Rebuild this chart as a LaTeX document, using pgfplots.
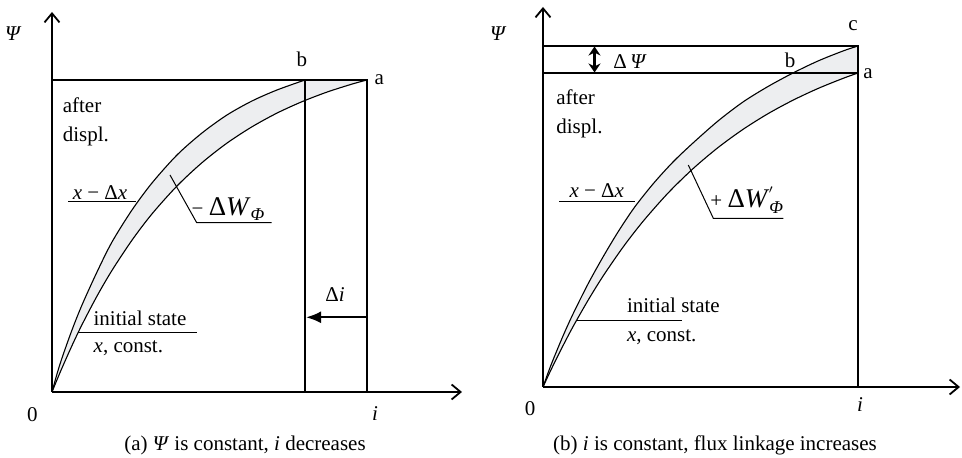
\documentclass[border=0pt]{standalone}
\usepackage{fontspec}
\setmainfont{Liberation Serif}
\usepackage{pgfplots}
\pgfplotsset{compat=1.18}
\usetikzlibrary{arrows.meta}
\definecolor{band}{RGB}{237,238,240}

\pgfplotsset{
  fluxaxis/.style={
    x=0.5pt, y=0.5pt, anchor=origin,
    xmin=0, ymin=0, axis lines=left,
    xtick=\empty, ytick=\empty,
    axis line style={line width=1.1pt,
      -{Straight Barb[length=4.5pt,width=7.5pt,line width=0.9pt]}},
    clip=false,
  },
  curve/.style={no marks, smooth, black, line width=0.55pt},
  frame/.style={no marks, black, line width=1.1pt},
}
\newcommand{\Wphi}{\textit{W}\raisebox{-0.45ex}{\fontsize{9}{9}\selectfont\textit{Φ}}}
\newcommand{\Wphip}{\textit{W}\rlap{\raisebox{0.55ex}{\fontsize{9}{9}\selectfont\kern-0.05em$'$}}\raisebox{-0.45ex}{\fontsize{9}{9}\selectfont\textit{Φ}}}

\begin{document}
\fontsize{10.5}{12.6}\selectfont
\begin{tikzpicture}[x=1pt, y=1pt, every node/.style={inner sep=0pt, font=\fontsize{10.5}{12.6}\selectfont}]
\path[use as bounding box] (0,0) rectangle (481,229);

% (a) Psi constant, i decreases
\begin{axis}[fluxaxis, at={(26pt,33pt)}, xmax=410, ymax=380]
\addplot[fill=band, draw=none] coordinates {
(0,0)(5,18)(10,34)(20,62)(30,87)(45,120)(60,150)(80,182)(100,209)(125,237)
(150,259)(175,277)(200,291)(225,302)(253,312)(315,312)
(300,307.9)(275,299.9)(250,290.3)(225,278.9)(200,265.2)(175,248.9)(150,229.3)
(125,206)(100,178.1)(80,151.8)(60,121.6)(45,95.9)(30,67.3)(20,46.4)(10,24)(5,12.2)(0,0)};
% x - dx
\addplot[curve] coordinates {
(0,0)(5,18)(10,34)(20,62)(30,87)(45,120)(60,150)(80,182)(100,209)(125,237)
(150,259)(175,277)(200,291)(225,302)(253,312)};
% initial state
\addplot[curve] coordinates {
(0,0)(5,12.2)(10,24)(20,46.4)(30,67.3)(45,95.9)(60,121.6)(80,151.8)(100,178.1)
(125,206)(150,229.3)(175,248.9)(200,265.2)(225,278.9)(250,290.3)(275,299.9)
(300,307.9)(315,312)};
\addplot[frame] coordinates {(0,312)(315,312)(315,0)};
\addplot[frame] coordinates {(253,0)(253,312)};
\draw[line width=1.1pt, -{Latex[length=7.5pt,width=6pt]}] (axis cs:315,74.7) -- (axis cs:254,74.7);
\draw[line width=0.5pt] (axis cs:16,190) -- (axis cs:84,190);
\draw[line width=0.5pt] (axis cs:118,217) -- (axis cs:144.7,169.3) -- (axis cs:219.7,169.3);
\draw[line width=0.5pt] (axis cs:25.5,59.3) -- (axis cs:144.7,59.3);
\end{axis}

\node at (6.7,212.4) {\textit{Ψ}};
\node at (150.9,199.4) {b};
\node at (189.7,189.4) {a};
\node[anchor=west] at (31.2,176.5) {after};
\node[anchor=west] at (31.2,161) {displ.};
\node at (50,132.5) {\textit{x} − Δ\textit{x}};
\node at (114,124.5) {− {\fontsize{13.5}{14}\selectfont Δ\Wphi}};
\node at (167.5,81.5) {Δ\textit{i}};
\node at (70,70) {initial state};
\node at (64.2,55) {\textit{x}, const.};
\node at (16.2,21.5) {0};
\node at (187.5,22.4) {\textit{i}};
\node at (122.5,6.5) {(a) \textit{Ψ} is constant, \textit{i} decreases};

% (b) i constant, flux linkage increases
\begin{axis}[fluxaxis, at={(271.5pt,35.5pt)}, xmax=417, ymax=380]
\addplot[fill=band, draw=none] coordinates {
(0,0)(5,14)(10,27)(20,51)(30,73)(45,103)(60,130)(75,155)(91,179)(110,203)
(130,225)(150,244)(175,266)(200,285)(225,300.5)(250,314)(275,326)(300,336)(315,341)
(315,314)(300,308.6)(275,298.5)(250,286.8)(225,273.3)(200,257.6)(175,239.4)
(150,218.3)(125,193.9)(100,165.6)(80,139.8)(60,110.8)(45,86.6)(30,60.3)(20,41.3)
(10,21.3)(5,10.8)(0,0)};
% x - dx
\addplot[curve] coordinates {
(0,0)(5,14)(10,27)(20,51)(30,73)(45,103)(60,130)(75,155)(91,179)(110,203)
(130,225)(150,244)(175,266)(200,285)(225,300.5)(250,314)(275,326)(300,336)(315,341)};
% initial state
\addplot[curve] coordinates {
(0,0)(5,10.8)(10,21.3)(20,41.3)(30,60.3)(45,86.6)(60,110.8)(80,139.8)(100,165.6)
(125,193.9)(150,218.3)(175,239.4)(200,257.6)(225,273.3)(250,286.8)(275,298.5)
(300,308.6)(315,314)};
\addplot[frame] coordinates {(0,341)(315,341)(315,0)};
\addplot[frame] coordinates {(0,314)(315,314)};
\draw[line width=1.1pt, {Stealth[length=4.5pt,width=6pt]}-{Stealth[length=4.5pt,width=6pt]}] (axis cs:51.5,314.5) -- (axis cs:51.5,340.5);
\draw[line width=0.5pt] (axis cs:16.3,185) -- (axis cs:91.5,185);
\draw[line width=0.5pt] (axis cs:145.3,222) -- (axis cs:170.3,168.7) -- (axis cs:240.3,168.7);
\draw[line width=0.5pt] (axis cs:33,66.3) -- (axis cs:138.7,66.3);
\end{axis}

\node at (249.2,212.4) {\textit{Ψ}};
\node at (426.5,216) {c};
\node at (395,199) {b};
\node at (434,192.4) {a};
\node at (315,198.2) {Δ\,\textit{Ψ}};
\node[anchor=west] at (278,180.5) {after};
\node[anchor=west] at (278,165) {displ.};
\node at (298.4,133.5) {\textit{x} − Δ\textit{x}};
\node at (373.4,129) {+ {\fontsize{13.5}{14}\selectfont Δ\Wphip}};
\node at (336.7,76.5) {initial state};
\node at (330.9,60.5) {\textit{x}, const.};
\node at (265,24.9) {0};
\node at (430,26.5) {\textit{i}};
\node at (357.5,6.5) {(b) \textit{i} is constant, flux linkage increases};
\end{tikzpicture}
\end{document}
